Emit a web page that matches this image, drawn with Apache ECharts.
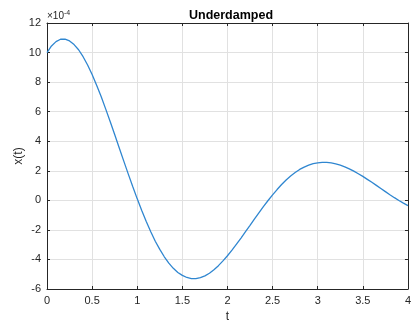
<!DOCTYPE html>
<html>
<head>
<meta charset="utf-8">
<script src="https://cdn.jsdelivr.net/npm/echarts@6/dist/echarts.min.js"></script>
<style>
html,body{margin:0;padding:0;background:#fff;}
#chart{width:414px;height:328px;}
</style>
</head>
<body>
<div id="chart"></div>
<script>
// time samples (s), step 0.05
var tValues = [0,0.05,0.1,0.15,0.2,0.25,0.3,0.35,0.4,0.45,0.5,0.55,0.6,0.65,0.7,0.75,0.8,0.85,0.9,0.95,
  1.0,1.05,1.1,1.15,1.2,1.25,1.3,1.35,1.4,1.45,1.5,1.55,1.6,1.65,1.7,1.75,1.8,1.85,1.9,1.95,
  2.0,2.05,2.1,2.15,2.2,2.25,2.3,2.35,2.4,2.45,2.5,2.55,2.6,2.65,2.7,2.75,2.8,2.85,2.9,2.95,
  3.0,3.05,3.1,3.15,3.2,3.25,3.3,3.35,3.4,3.45,3.5,3.55,3.6,3.65,3.7,3.75,3.8,3.85,3.9,3.95,4.0];
// x(t) in units of 1e-4
var xValues = [10.00,10.45,10.74,10.90,10.91,10.79,10.54,10.19,9.72,9.16,8.51,7.79,7.02,6.19,5.34,4.45,3.56,2.67,1.79,0.93,
  0.10,-0.69,-1.43,-2.12,-2.77,-3.32,-3.82,-4.25,-4.60,-4.88,-5.08,-5.22,-5.30,-5.30,-5.23,-5.11,-4.93,-4.70,-4.42,-4.10,
  -3.75,-3.37,-2.97,-2.55,-2.12,-1.69,-1.25,-0.83,-0.41,-0.01,0.37,0.73,1.07,1.38,1.65,1.88,2.09,2.25,2.38,2.48,
  2.53,2.57,2.57,2.53,2.47,2.38,2.27,2.13,1.98,1.80,1.62,1.42,1.22,1.01,0.80,0.59,0.38,0.18,-0.01,-0.19,-0.36];
var xTicks = [0,0.5,1,1.5,2,2.5,3,3.5,4];
var yTicks = [-6,-4,-2,0,2,4,6,8,10,12];

var pts = tValues.map(function(t,i){return [t,xValues[i]];});
var FONT = 'Liberation Sans';
var AX = '#262626';
var chart = echarts.init(document.getElementById('chart'));
chart.setOption({
  animation:false,
  backgroundColor:'#fff',
  grid:{left:47,top:23,width:368,height:270},
  xAxis:[{type:'value',min:0,max:4,interval:0.5,
    name:'t',nameLocation:'middle',nameGap:22,nameMoveOverlap:false,
    nameTextStyle:{fontFamily:FONT,fontSize:12,color:AX},
    axisLine:{show:true,onZero:false,lineStyle:{color:AX,width:1}},
    axisTick:{show:true,inside:true,length:3,lineStyle:{color:AX}},
    axisLabel:{fontFamily:FONT,fontSize:11,color:AX,margin:6,
      formatter:function(v){return xTicks.indexOf(v)>=0?String(v):'';}},
    splitLine:{show:true,lineStyle:{color:'#e1e1e1',width:1}}},
   {type:'value',min:0,max:4,interval:0.5,position:'top',
    axisLine:{show:true,onZero:false,lineStyle:{color:AX,width:1}},
    axisTick:{show:true,inside:true,length:3,lineStyle:{color:AX}},
    axisLabel:{show:false},splitLine:{show:false}}],
  yAxis:[{type:'value',min:-6,max:12,interval:2,
    name:'x(t)',nameLocation:'middle',nameGap:22,nameRotate:90,nameMoveOverlap:false,
    nameTextStyle:{fontFamily:FONT,fontSize:12,color:AX},
    axisLine:{show:true,onZero:false,lineStyle:{color:AX,width:1}},
    axisTick:{show:true,inside:true,length:3,lineStyle:{color:AX}},
    axisLabel:{fontFamily:FONT,fontSize:11,color:AX,margin:6,
      formatter:function(v){return yTicks.indexOf(v)>=0?String(v):'';}},
    splitLine:{show:true,lineStyle:{color:'#e1e1e1',width:1}}},
   {type:'value',min:-6,max:12,interval:2,position:'right',
    axisLine:{show:true,onZero:false,lineStyle:{color:AX,width:1}},
    axisTick:{show:true,inside:true,length:3,lineStyle:{color:AX}},
    axisLabel:{show:false},splitLine:{show:false}}],
  graphic:[
   {type:'text',x:231,y:9,
    style:{text:'Underdamped',textAlign:'center',textVerticalAlign:'top',
      font:'bold 12.5px "Liberation Sans"',fill:'#000'}},
   {type:'text',left:47,top:10,
    style:{rich:{a:{fontFamily:FONT,fontSize:10,fill:AX},b:{fontFamily:FONT,fontSize:7,fill:AX,verticalAlign:'top',padding:[0,0,6,0]}},
      text:'{a|×10}{b|-4}'}}],
  series:[{type:'line',data:pts,showSymbol:false,smooth:false,
    lineStyle:{color:'#2f86d0',width:1.3},clip:true}]
});
</script>
</body>
</html>
